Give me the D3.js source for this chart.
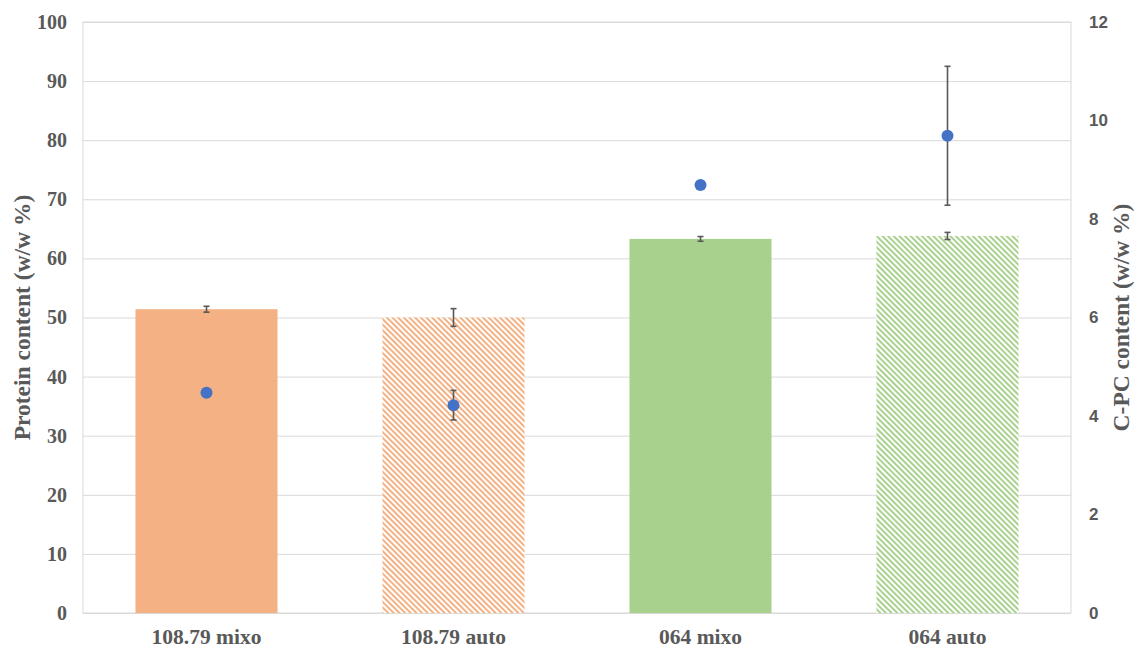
<!DOCTYPE html>
<html>
<head>
<meta charset="utf-8">
<script src="https://cdn.jsdelivr.net/npm/d3@7"></script>
<style>
  html, body { margin: 0; padding: 0; background: #ffffff; }
  svg { display: block; }
</style>
</head>
<body>
<svg id="chart" width="1138" height="649"></svg>
<script>
// Strains grown in mixotrophic / autotrophic conditions
const categories = ["108.79 mixo", "108.79 auto", "064 mixo", "064 auto"];
// Protein content (left axis, bars)
const protein = [51.4, 50.0, 63.3, 63.8];
const proteinErr = [0.5, 1.5, 0.4, 0.6];
// C-PC content (right axis, points)
const cpc = [4.47, 4.22, 8.69, 9.69];
const cpcErr = [0, 0.3, 0, 1.41];
// Bar styling per category
const barColors = ["#F4B183", "#F4B183", "#A9D18E", "#A9D18E"];
const barHatched = [false, true, false, true];
// Axis ticks
const leftTicks = [0, 10, 20, 30, 40, 50, 60, 70, 80, 90, 100];
const rightTicks = [0, 2, 4, 6, 8, 10, 12];

const svg = d3.select("#chart");
const plot = { left: 83, right: 1071, top: 22, bottom: 613 };

const x = d3.scaleBand()
  .domain(categories)
  .range([plot.left, plot.right])
  .paddingInner(0.425)
  .paddingOuter(0.2125);
const yL = d3.scaleLinear().domain([0, 100]).range([plot.bottom, plot.top]);
const yR = d3.scaleLinear().domain([0, 12]).range([plot.bottom, plot.top]);

const textGrey = "#595959";
const serif = "'Liberation Serif', 'Times New Roman', serif";

// Diagonal hatch fills
const defs = svg.append("defs");
["#F4B183", "#A9D18E"].forEach((c, i) => {
  const p = defs.append("pattern")
    .attr("id", "hatch" + i)
    .attr("patternUnits", "userSpaceOnUse")
    .attr("width", 4).attr("height", 4)
    .attr("patternTransform", "rotate(-45)");
  p.append("rect").attr("width", 4).attr("height", 4).attr("fill", "#ffffff");
  p.append("rect").attr("x", 0).attr("y", 0).attr("width", 2).attr("height", 4).attr("fill", c);
});
const fillFor = i => barHatched[i]
  ? `url(#hatch${barColors[i] === "#F4B183" ? 0 : 1})`
  : barColors[i];

// Gridlines from the left axis
svg.append("g")
  .attr("transform", `translate(${plot.left},0)`)
  .call(d3.axisLeft(yL).tickValues(leftTicks).tickSize(-(plot.right - plot.left)).tickFormat(""))
  .call(g => g.select(".domain").remove())
  .call(g => g.selectAll(".tick line").attr("stroke", "#d9d9d9").attr("stroke-width", 1));

// Plot area frame
svg.append("rect")
  .attr("x", plot.left).attr("y", plot.top)
  .attr("width", plot.right - plot.left).attr("height", plot.bottom - plot.top)
  .attr("fill", "none").attr("stroke", "#d9d9d9").attr("stroke-width", 1);

// Bars
svg.append("g").selectAll("rect")
  .data(categories)
  .join("rect")
  .attr("x", d => x(d))
  .attr("width", x.bandwidth())
  .attr("y", (d, i) => yL(protein[i]))
  .attr("height", (d, i) => yL(0) - yL(protein[i]))
  .attr("fill", (d, i) => fillFor(i));

// Error bars helper (skips zero-width errors)
function errorBars(vals, errs, scale) {
  const g = svg.append("g").attr("stroke", "#595959").attr("stroke-width", 1.6).attr("fill", "none");
  categories.forEach((c, i) => {
    if (!errs[i]) return;
    const cx = x(c) + x.bandwidth() / 2;
    const y1 = scale(vals[i] + errs[i]);
    const y2 = scale(vals[i] - errs[i]);
    g.append("line").attr("x1", cx).attr("x2", cx).attr("y1", y1).attr("y2", y2);
    g.append("line").attr("x1", cx - 3).attr("x2", cx + 3).attr("y1", y1).attr("y2", y1);
    g.append("line").attr("x1", cx - 3).attr("x2", cx + 3).attr("y1", y2).attr("y2", y2);
  });
}
errorBars(protein, proteinErr, yL);
errorBars(cpc, cpcErr, yR);

// C-PC points
svg.append("g").selectAll("circle")
  .data(categories)
  .join("circle")
  .attr("cx", d => x(d) + x.bandwidth() / 2)
  .attr("cy", (d, i) => yR(cpc[i]))
  .attr("r", 6)
  .attr("fill", "#4472C4");

// Left axis labels
svg.append("g")
  .attr("transform", `translate(${plot.left},0)`)
  .call(d3.axisLeft(yL).tickValues(leftTicks).tickSize(0).tickPadding(16))
  .call(g => g.select(".domain").remove())
  .call(g => g.selectAll("text")
    .attr("font-family", serif).attr("font-weight", "bold")
    .attr("font-size", 20).attr("fill", textGrey));

// Right axis labels
svg.append("g")
  .attr("transform", `translate(${plot.right},0)`)
  .call(d3.axisRight(yR).tickValues(rightTicks).tickSize(0).tickPadding(18))
  .call(g => g.select(".domain").remove())
  .call(g => g.selectAll("text")
    .attr("font-family", "'Liberation Sans', Arial, sans-serif").attr("font-weight", "bold")
    .attr("font-size", 17).attr("fill", textGrey));

// Category labels
svg.append("g")
  .attr("transform", `translate(0,${plot.bottom})`)
  .call(d3.axisBottom(x).tickSize(0).tickPadding(16))
  .call(g => g.select(".domain").remove())
  .call(g => g.selectAll("text")
    .attr("font-family", serif).attr("font-weight", "bold")
    .attr("font-size", 21.5).attr("fill", textGrey));

// Axis titles
const midY = (plot.top + plot.bottom) / 2;
svg.append("text")
  .attr("transform", `translate(30,${midY}) rotate(-90)`)
  .attr("text-anchor", "middle")
  .attr("font-family", serif).attr("font-weight", "bold")
  .attr("font-size", 23.5).attr("fill", textGrey)
  .text("Protein content (w/w %)");
svg.append("text")
  .attr("transform", `translate(1129,${midY}) rotate(-90)`)
  .attr("text-anchor", "middle")
  .attr("font-family", serif).attr("font-weight", "bold")
  .attr("font-size", 23.5).attr("fill", textGrey)
  .text("C-PC content (w/w %)");
</script>
</body>
</html>
